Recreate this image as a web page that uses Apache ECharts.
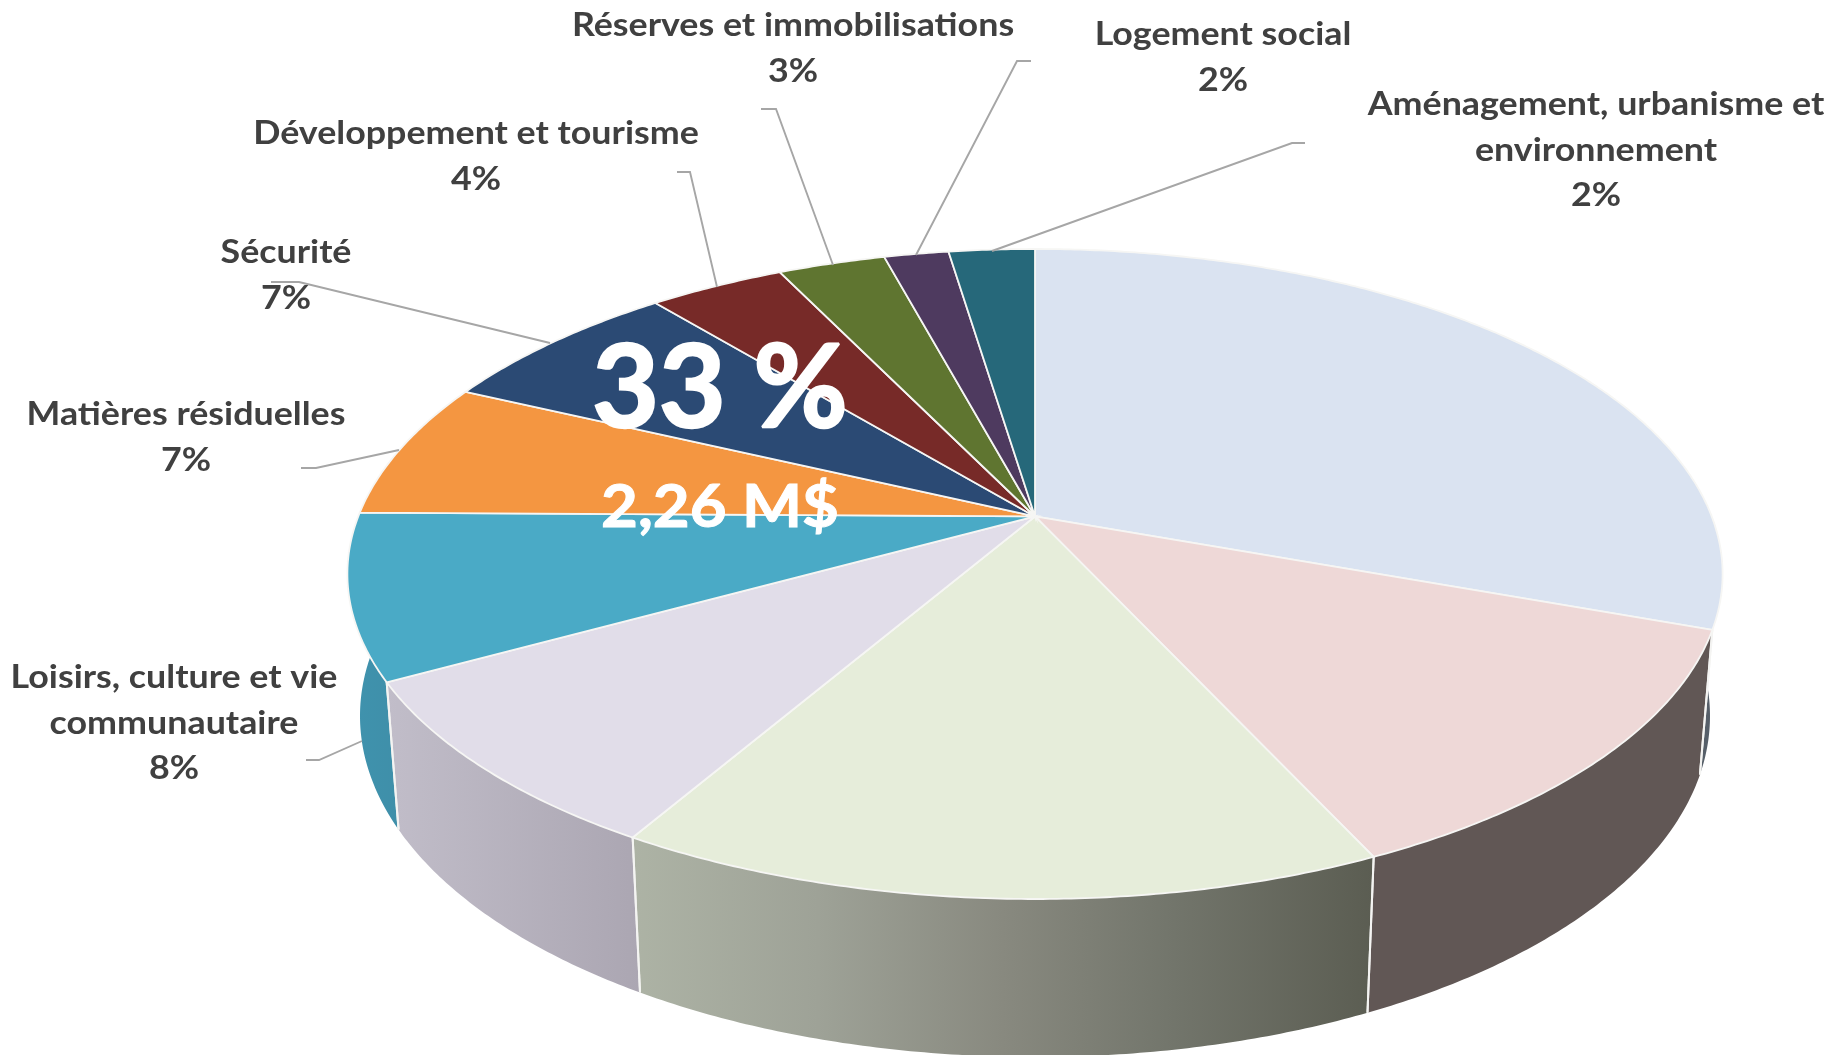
<!DOCTYPE html>
<html>
<head>
<meta charset="utf-8">
<style>html,body{margin:0;padding:0;background:#fff}#c{width:1840px;height:1055px}</style>
<script src="https://cdn.jsdelivr.net/npm/echarts@6/dist/echarts.min.js"></script>
</head>
<body>
<div id="c"></div>
<script>
// ---- data (clockwise from 12 o'clock) ----
const categories = ['', '', '', '', 'Loisirs, culture et vie\ncommunautaire', 'Matières résiduelles', 'Sécurité', 'Développement et tourisme', 'Réserves et immobilisations', 'Logement social', 'Aménagement, urbanisme et\nenvironnement'];
const values = [30.5, 12.6, 15.3, 8.6, 8.2, 6.8, 7, 3.8, 3, 1.8, 2.4];
const headline = '33 %';
const subline = '2,26 M$';

// ---- styles ----
const topColors = ['#dae3f1', '#eed8d7', '#e6edda', '#e1dde9', '#4aaac6', '#f49641', '#2b4a74', '#772a28', '#5f7530', '#4e3a5f', '#26687a'];
const wallColors = [
  [['#565f69', 0], ['#565f69', 1]],
  [['#615755', 0], ['#615755', 1]],
  [['#adb3a5', 0], ['#9ea297', 0.25], ['#88897f', 0.5], ['#73766c', 0.72], ['#5b5d52', 1]],
  [['#c1bdc9', 0], ['#aba6b2', 1]],
  [['#3f93ae', 0], ['#3f8fa9', 1]],
  null, null, null, null, null, null
];
const PERSPECTIVE = 0.177;
const topRing = { cx: 1035, top: 249, bottom: 899, rx: 687.6 };
const baseRing = { cx: 1035, top: 375, bottom: 1057, rx: 675 };
const labelBoxes = {
  4: { x: 174, y: 655 }, 5: { x: 186, y: 392 }, 6: { x: 286, y: 230 }, 7: { x: 476, y: 111 },
  8: { x: 793, y: 3 }, 9: { x: 1223, y: 12 }, 10: { x: 1596, y: 82 }
};
const leaders = {
  4: [[306, 760], [319, 760], [362, 741]],
  5: [[301, 468], [316, 468], [399, 450]],
  6: [[271, 282], [299, 282], [550, 343]],
  7: [[677, 172], [690, 172], [717, 287]],
  8: [[761, 109], [776, 109], [833, 265]],
  9: [[1031, 61], [1017, 61], [916, 255]],
  10: [[1305, 143], [1292, 143], [992, 251]]
};
const FONT = 'Lato, Carlito, Calibri, sans-serif';

// ---- perspective projection of the pie disc ----
function project(ring, deg) {
  const t = deg * Math.PI / 180, u = Math.sin(t), v = Math.cos(t);
  const k = PERSPECTIVE, w = 1 + k * v;
  const T = (ring.bottom - ring.top) * (1 - k) / 2;
  const a = T * (1 + k);
  const b = ring.rx * Math.sqrt(1 - k * k);
  return [ring.cx + b * u / w, (ring.top + T) - a * v / w];
}
const total = values.reduce((s, x) => s + x, 0);
const starts = [];
values.reduce((s, x, i) => (starts[i] = s, s + x), 0);
const angleOf = p => p / total * 360;

function arc(ring, from, to) {
  const n = Math.max(2, Math.ceil((to - from) * 2));
  const pts = [];
  for (let j = 0; j <= n; j++) pts.push(project(ring, from + (to - from) * j / n));
  return pts;
}

function renderWall(params, api) {
  const i = api.value(0);
  const stops = wallColors[i];
  const rawA = angleOf(starts[i]), rawB = angleOf(starts[i] + values[i]);
  const a0 = Math.max(rawA, 80), a1 = Math.min(rawB, 280);
  if (!stops || a1 <= a0) return null;
  const pts = arc(topRing, a0, a1).concat(arc(baseRing, a0, a1).reverse());
  const children = [{
    type: 'polygon', shape: { points: pts },
    style: { fill: { type: 'linear', x: 0, y: 0, x2: 1, y2: 0, colorStops: stops.map(s => ({ color: s[0], offset: s[1] })) } }
  }];
  [rawA, rawB].forEach(a => {
    if (a > 85 && a < 265) {
      const p = project(topRing, a), q = project(baseRing, a);
      children.push({ type: 'line', z2: 5, shape: { x1: p[0], y1: p[1], x2: q[0], y2: q[1] }, style: { stroke: '#f4f4f2', lineWidth: 2 } });
    }
  });
  return { type: 'group', children };
}
function renderTop(params, api) {
  const i = api.value(0);
  const a0 = angleOf(starts[i]), a1 = angleOf(starts[i] + values[i]);
  const apex = project(topRing, 0);
  apex[1] = topRing.top + (topRing.bottom - topRing.top) * (1 - PERSPECTIVE) / 2;
  const pts = [apex].concat(arc(topRing, a0, a1));
  return { type: 'polygon', shape: { points: pts }, style: { fill: topColors[i], stroke: '#f6f6f4', lineWidth: 1.8 } };
}

const graphicElements = [];
categories.forEach((c, i) => {
  if (!c) return;
  graphicElements.push({ type: 'polyline', z: 20, shape: { points: leaders[i] }, style: { stroke: '#a6a6a6', lineWidth: 1.9, fill: null } });
  graphicElements.push({ type: 'text', z: 21, x: labelBoxes[i].x, y: labelBoxes[i].y, scaleX: 1.085, style: {
    text: c + '\n' + Math.round(values[i]) + '%', align: 'center', verticalAlign: 'top',
    font: 'bold 33px ' + FONT, lineHeight: 45.5, fill: '#404040' } });
});
graphicElements.push({ type: 'text', z: 22, x: 720, y: 390, style: { text: headline, align: 'center', verticalAlign: 'middle', font: 'bold 115px ' + FONT, fill: '#fff', stroke: '#fff', lineWidth: 2.5 } });
graphicElements.push({ type: 'text', z: 22, x: 720, y: 508, scaleX: 1.06, style: { text: subline, align: 'center', verticalAlign: 'middle', font: 'bold 60px ' + FONT, fill: '#fff', stroke: '#fff', lineWidth: 1 } });

const chart = echarts.init(document.getElementById('c'), null, { renderer: 'canvas' });
const seriesData = values.map((v, i) => [i, v]);
chart.setOption({
  animation: false,
  backgroundColor: '#fff',
  series: [
    { type: 'custom', coordinateSystem: 'none', renderItem: renderWall, data: seriesData, z: 1, silent: true },
    { type: 'custom', coordinateSystem: 'none', renderItem: renderTop, data: seriesData, z: 2, silent: true }
  ],
  graphic: graphicElements
});
</script>
</body>
</html>
